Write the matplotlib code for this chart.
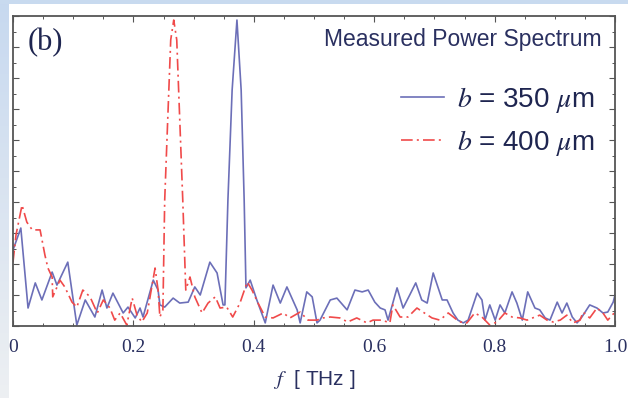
import matplotlib
matplotlib.use("Agg")
import matplotlib.pyplot as plt
import numpy as np
from matplotlib.patches import Rectangle
from matplotlib.ticker import MultipleLocator

# ---- data ----
f_350 = [0.000, 0.013, 0.025, 0.037, 0.048, 0.065, 0.073, 0.091, 0.106, 0.120,
         0.136, 0.148, 0.156, 0.166, 0.183, 0.191, 0.203, 0.211, 0.216, 0.233,
         0.241, 0.244, 0.252, 0.266, 0.277, 0.291, 0.302, 0.311, 0.327, 0.339,
         0.349, 0.352, 0.357, 0.364, 0.372, 0.379, 0.384, 0.387, 0.394, 0.405,
         0.419, 0.432, 0.444, 0.455, 0.472, 0.477, 0.488, 0.497, 0.505, 0.510,
         0.527, 0.538, 0.555, 0.568, 0.580, 0.590, 0.601, 0.610, 0.618, 0.623,
         0.638, 0.648, 0.659, 0.669, 0.679, 0.688, 0.698, 0.713, 0.721, 0.731,
         0.739, 0.748, 0.756, 0.771, 0.779, 0.784, 0.792, 0.801, 0.809, 0.817,
         0.829, 0.837, 0.846, 0.855, 0.867, 0.875, 0.884, 0.892, 0.904, 0.912,
         0.920, 0.929, 0.937, 0.945, 0.958, 0.970, 0.980, 0.988, 0.997, 1.000]
p_350 = [0.245, 0.316, 0.058, 0.139, 0.084, 0.174, 0.132, 0.206, 0.003, 0.084,
         0.029, 0.116, 0.058, 0.106, 0.042, 0.061, 0.026, 0.058, 0.029, 0.148,
         0.116, 0.068, 0.061, 0.090, 0.074, 0.077, 0.126, 0.100, 0.206, 0.171,
         0.068, 0.068, 0.406, 0.761, 0.987, 0.761, 0.406, 0.123, 0.148, 0.084,
         0.010, 0.132, 0.074, 0.126, 0.052, 0.010, 0.110, 0.094, 0.010, 0.019,
         0.084, 0.090, 0.052, 0.116, 0.110, 0.116, 0.077, 0.058, 0.052, 0.019,
         0.123, 0.058, 0.100, 0.139, 0.084, 0.074, 0.171, 0.084, 0.084, 0.042,
         0.019, 0.010, 0.019, 0.106, 0.084, 0.019, 0.068, 0.019, 0.068, 0.042,
         0.110, 0.074, 0.019, 0.110, 0.058, 0.052, 0.026, 0.019, 0.077, 0.042,
         0.074, 0.029, 0.010, 0.029, 0.068, 0.058, 0.042, 0.045, 0.077, 0.100]

f_400 = [0.000, 0.005, 0.015, 0.023, 0.032, 0.045, 0.053, 0.058, 0.065, 0.066,
         0.078, 0.086, 0.098, 0.106, 0.116, 0.128, 0.140, 0.150, 0.161, 0.169,
         0.178, 0.189, 0.198, 0.206, 0.214, 0.223, 0.236, 0.241, 0.244, 0.249,
         0.252, 0.257, 0.262, 0.267, 0.272, 0.277, 0.282, 0.287, 0.294, 0.302,
         0.314, 0.324, 0.336, 0.344, 0.355, 0.365, 0.377, 0.389, 0.397, 0.407,
         0.419, 0.432, 0.449, 0.460, 0.477, 0.490, 0.505, 0.515, 0.527, 0.543,
         0.556, 0.571, 0.588, 0.598, 0.613, 0.626, 0.631, 0.643, 0.656, 0.671,
         0.681, 0.696, 0.709, 0.723, 0.738, 0.743, 0.754, 0.767, 0.779, 0.792,
         0.804, 0.817, 0.829, 0.842, 0.854, 0.867, 0.875, 0.887, 0.897, 0.909,
         0.920, 0.930, 0.942, 0.947, 0.958, 0.970, 0.980, 0.988, 1.000]
p_400 = [0.206, 0.294, 0.390, 0.335, 0.310, 0.310, 0.229, 0.187, 0.158, 0.094,
         0.148, 0.126, 0.077, 0.061, 0.116, 0.094, 0.042, 0.084, 0.058, 0.019,
         0.042, 0.003, 0.090, 0.035, 0.013, 0.042, 0.187, 0.116, 0.029, 0.052,
         0.406, 0.665, 0.923, 0.987, 0.923, 0.665, 0.406, 0.116, 0.158, 0.094,
         0.042, 0.074, 0.094, 0.058, 0.061, 0.029, 0.074, 0.142, 0.116, 0.074,
         0.029, 0.026, 0.042, 0.026, 0.045, 0.019, 0.019, 0.026, 0.029, 0.026,
         0.013, 0.026, 0.010, 0.019, 0.019, 0.010, 0.068, 0.029, 0.029, 0.058,
         0.045, 0.026, 0.019, 0.042, 0.019, 0.013, 0.010, 0.042, 0.029, 0.003,
         0.013, 0.042, 0.029, 0.026, 0.019, 0.029, 0.035, 0.019, 0.013, 0.019,
         0.035, 0.010, 0.019, 0.045, 0.026, 0.058, 0.042, 0.019, 0.045]

xticks = [0, 0.2, 0.4, 0.6, 0.8, 1.0]
xticklabels = ["0", "0.2", "0.4", "0.6", "0.8", "1.0"]
labels = [r"$b$ = 350 $\mu$m", r"$b$ = 400 $\mu$m"]

plt.rcParams["mathtext.fontset"] = "stix"

W, H = 628, 398
fig = plt.figure(figsize=(W / 100, H / 100), dpi=100)

# slide background strips
fig.patches.append(Rectangle((0, 0), 1, 1, transform=fig.transFigure,
                             facecolor="#eef0f4", edgecolor="none", zorder=-3))
grad = np.linspace(0, 1, 256).reshape(-1, 1)
bg = fig.add_axes([0, 0, 9 / W, 1], zorder=-2)
bg.imshow(np.dstack([np.interp(grad, [0, 1], [0.93, 0.78]),
                     np.interp(grad, [0, 1], [0.94, 0.85]),
                     np.interp(grad, [0, 1], [0.95, 0.94])]),
          aspect="auto", origin="lower", extent=[0, 1, 0, 1])
bg.axis("off")
fig.patches.append(Rectangle((0, 1 - 4 / H), 1, 4 / H, transform=fig.transFigure,
                             facecolor="#c8daef", edgecolor="none", zorder=-1))
fig.patches.append(Rectangle((9 / W, 0), 1, 1 - 4 / H, transform=fig.transFigure,
                             facecolor="white", edgecolor="none", zorder=-1))

ax = fig.add_axes([13 / W, 72 / H, 602 / W, 310 / H])
ax.set_facecolor("white")

ax.plot(f_350, p_350, color="#6c6fb8", lw=1.2, label=labels[0],
        solid_joinstyle="round")
ax.plot(f_400, p_400, color="#f04a4a", lw=1.2, dashes=(7, 2.5, 1.2, 2.5),
        label=labels[1], dash_joinstyle="round")

ax.set_xlim(0, 1.0)
ax.set_ylim(0, 1.0)
ax.set_xticks(xticks)
ax.set_xticklabels(xticklabels, fontfamily="Liberation Serif", fontsize=14,
                   color="#2a3060")
ax.xaxis.set_minor_locator(MultipleLocator(0.05))
ax.yaxis.set_major_locator(MultipleLocator(0.1))
ax.yaxis.set_minor_locator(MultipleLocator(0.05))
ax.set_yticklabels([])
ax.tick_params(which="both", direction="in", top=True, right=True,
               color="#555555")
ax.tick_params(which="major", length=4, width=0.8, pad=9)
ax.tick_params(which="minor", length=2.5, width=0.7)
for s in ax.spines.values():
    s.set_color("#555555")
    s.set_linewidth(1.3)

ax.set_xlabel(r"$f$  [ THz ]", fontfamily="Liberation Sans", fontsize=15,
              color="#2a3060", labelpad=9)

ax.text(0.025, 0.96, "(b)", transform=ax.transAxes, fontfamily="Liberation Serif",
        fontsize=22, color="#1e2550", va="top", ha="left")
ax.text(0.978, 0.96, "Measured Power Spectrum", transform=ax.transAxes,
        fontfamily="Liberation Sans", fontsize=16.5, color="#2a3060",
        va="top", ha="right")

leg = ax.legend(loc="upper right", bbox_to_anchor=(0.998, 0.84), frameon=False,
                prop={"family": "Liberation Sans", "size": 20},
                handlelength=1.55, handletextpad=0.45, labelspacing=0.45,
                borderpad=0.2)
for t in leg.get_texts():
    t.set_color("#1e2550")

fig.savefig("out.png", dpi=100)
